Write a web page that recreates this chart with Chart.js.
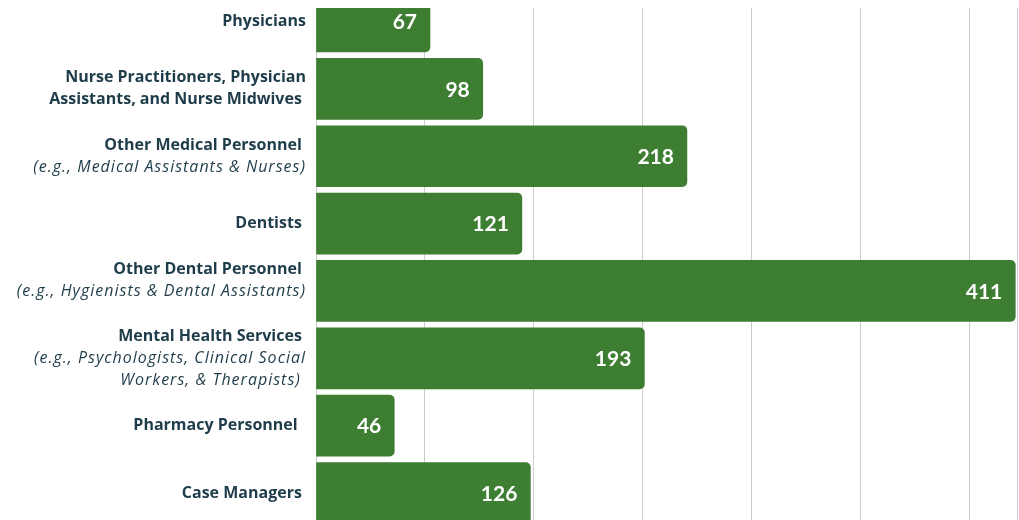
<!DOCTYPE html>
<html>
<head>
<meta charset="utf-8">
<script src="https://cdn.jsdelivr.net/npm/chart.js@4"></script>
<style>
  html, body { margin: 0; padding: 0; background: #fff; }
  #wrap { width: 1019px; height: 520px; position: relative; }
</style>
</head>
<body>
<div id="wrap"><canvas id="myChart"></canvas></div>
<script>
// DATA
const titles = [
    ["Physicians"],
    ["Nurse Practitioners, Physician", "Assistants, and Nurse Midwives "],
    ["Other Medical Personnel "],
    ["Dentists "],
    ["Other Dental Personnel "],
    ["Mental Health Services "],
    ["Pharmacy Personnel  "],
    ["Case Managers "]
];
const notes = [
    [],
    [],
    ["(e.g., Medical Assistants & Nurses)"],
    [],
    ["(e.g., Hygienists & Dental Assistants)", ""],
    ["(e.g., Psychologists, Clinical Social", "Workers, & Therapists) "],
    [],
    []
];
const staff = [67, 98, 218, 121, 411, 193, 46, 126];

const green = '#3e7e33';
const ink = '#1e3c4a';

const points = staff.map((v, i) => ({x: v, y: i}));

// draws the category text left of the bars and the numbers inside them
const labelsPlugin = {
    id: 'labelsPlugin',
    afterDatasetsDraw(chart) {
        const ctx = chart.ctx;
        const yScale = chart.scales.y;
        const area = chart.chartArea;
        const meta = chart.getDatasetMeta(0);
        ctx.save();
        ctx.textBaseline = 'middle';

        // category labels
        ctx.textAlign = 'right';
        for (let i = 0; i < titles.length; i++) {
            const lines = titles[i].map(t => ({t: t, bold: true})).concat(notes[i].map(t => ({t: t, bold: false})));
            const cy = yScale.getPixelForValue(i);
            const lh = 22;
            let y = cy - (lines.length - 1) * lh / 2;
            lines.forEach(l => {
                ctx.font = l.bold ? 'bold 16px "Open Sans"' : 'italic 16px "Open Sans"';
                ctx.letterSpacing = l.bold ? '0px' : '1px';
                ctx.fillStyle = ink;
                ctx.fillText(l.t, area.left - 10, y);
                y += lh;
            });
        }

        // value labels
        ctx.letterSpacing = '0px';
        ctx.fillStyle = '#ffffff';
        ctx.font = 'bold 21px Lato';
        ctx.textAlign = 'right';
        meta.data.forEach((bar, i) => {
            ctx.fillText(String(staff[i]), bar.x - 13, bar.y + 1);
        });
        ctx.restore();
    }
};

const config = {
    type: 'bar',
    data: {
        datasets: [{
            data: points,
            backgroundColor: green,
            borderRadius: 5,
            borderSkipped: 'start',
            barThickness: 61,
            clip: 0
        }]
    },
    options: {
        indexAxis: 'y',
        responsive: false,
        animation: false,
        layout: { padding: { left: 316, right: 2, top: 8, bottom: 0 } },
        plugins: {
            legend: { display: false },
            tooltip: { enabled: false }
        },
        scales: {
            x: {
                type: 'linear',
                min: 0,
                max: 412,
                ticks: { display: false, stepSize: 64 },
                grid: { color: '#cccccc', lineWidth: 1, drawTicks: false },
                border: { display: false }
            },
            y: {
                type: 'linear',
                reverse: true,
                offset: false,
                min: -0.2,
                max: 7.4,
                display: false
            }
        }
    },
    plugins: [labelsPlugin]
};

const canvas = document.querySelector('#myChart');
canvas.width = 1019;
canvas.height = 520;
var myChart = new Chart(canvas, config);
</script>
</body>
</html>
